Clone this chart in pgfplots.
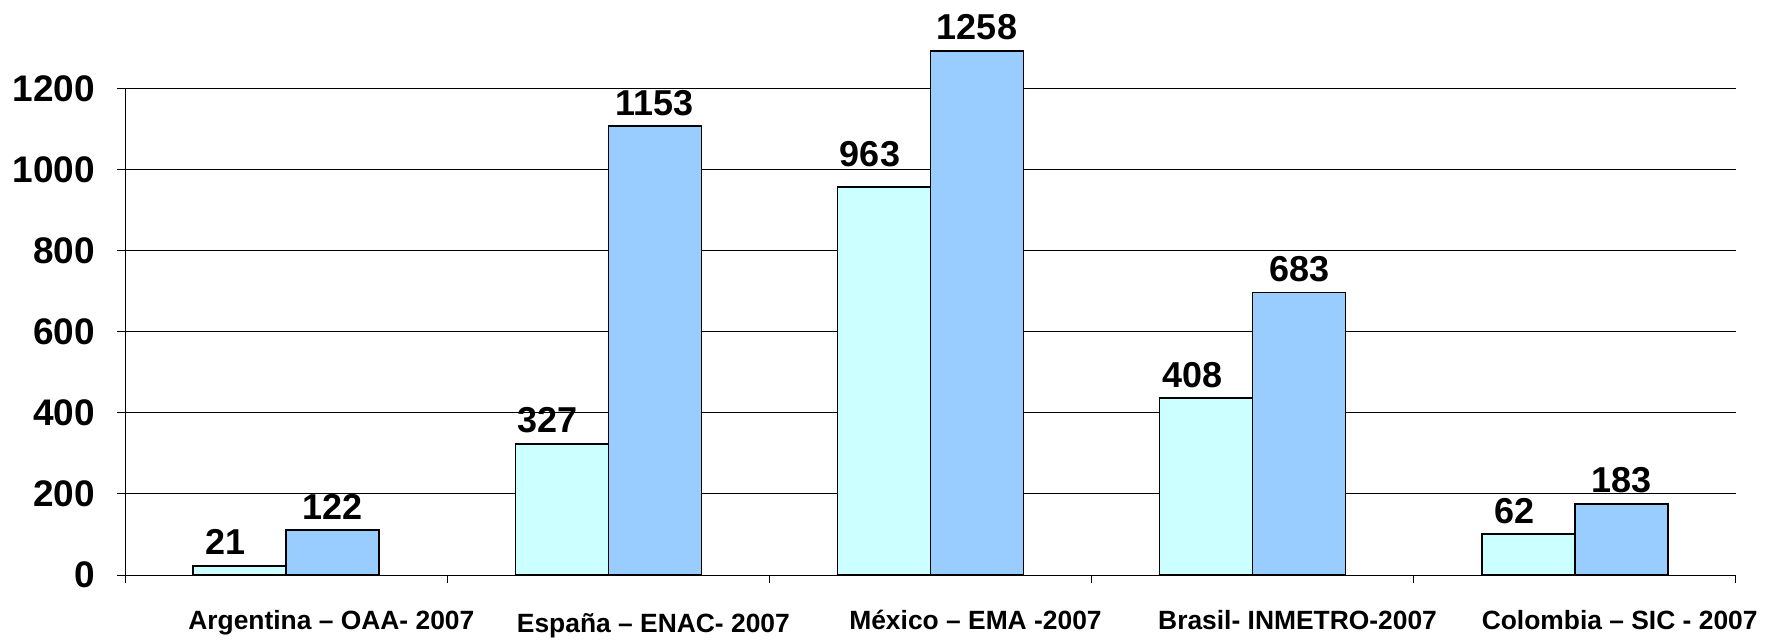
\documentclass[border=0pt]{standalone}
\usepackage{pgfplots}
\pgfplotsset{compat=1.18}
\usepackage{fontspec}
\setmainfont{Liberation Sans}
\definecolor{lightc}{HTML}{CCFFFF}
\definecolor{bluec}{HTML}{99CCFF}
\begin{document}
\begin{tikzpicture}
\begin{axis}[
  at={(62.65pt,32pt)}, anchor=south west,
  scale only axis, width=805.2pt, height=243.25pt,
  xmin=-0.5, xmax=4.5, ymin=0, ymax=1200,
  axis x line=bottom, axis y line=left,
  axis line style={-, line width=0.5pt, black},
  clip=false,
  ybar=0pt, bar width=46.5pt,
  xtick={-0.5,0.5,1.5,2.5,3.5,4.5}, xticklabels={,,,,,},
  extra x ticks={0,1,2,3,4},
  extra x tick labels={Argentina – OAA- 2007, \raisebox{-1.7pt}{España – ENAC- 2007}, México – EMA -2007, Brasil- INMETRO-2007, Colombia – SIC - 2007},
  extra x tick style={major tick length=0pt, tick label style={anchor=base, inner sep=0pt, xshift=22.5pt, yshift=-27pt, font=\fontsize{13.2}{15}\selectfont\bfseries}},
  ytick={0,200,...,1200}, ymajorgrids, grid style={black, line width=0.5pt},
  tick align=outside, major tick length=4pt, tick style={black, line width=0.5pt},
  yticklabel style={anchor=east, inner sep=0pt, xshift=-11pt, font=\fontsize{18.5}{20}\selectfont\bfseries},
  /pgf/number format/assume math mode=true,
  /pgf/number format/1000 sep={},
  every node near coord/.append style={anchor=base, inner sep=0pt, yshift=5.5pt, font=\fontsize{18}{20}\selectfont\bfseries, text=black},
]
\addplot[fill=lightc, draw=black, line width=0.9pt, nodes near coords, point meta=explicit symbolic, every node near coord/.append style={xshift=-7pt}] table[meta=lab] {
x y lab
0 23 21
1 324 327
2 958 \raisebox{4.5pt}{963}
3 436 408
4 101 62
};
\addplot[fill=bluec, draw=black, line width=0.9pt, nodes near coords, point meta=explicit symbolic] table[meta=lab] {
x y lab
0 111 122
1 1107 1153
2 1293 1258
3 697 683
4 176 183
};
\end{axis}
\pgfresetboundingbox
\path[use as bounding box] (0,0) rectangle (884.5pt,319.5pt);
\end{tikzpicture}
\end{document}
